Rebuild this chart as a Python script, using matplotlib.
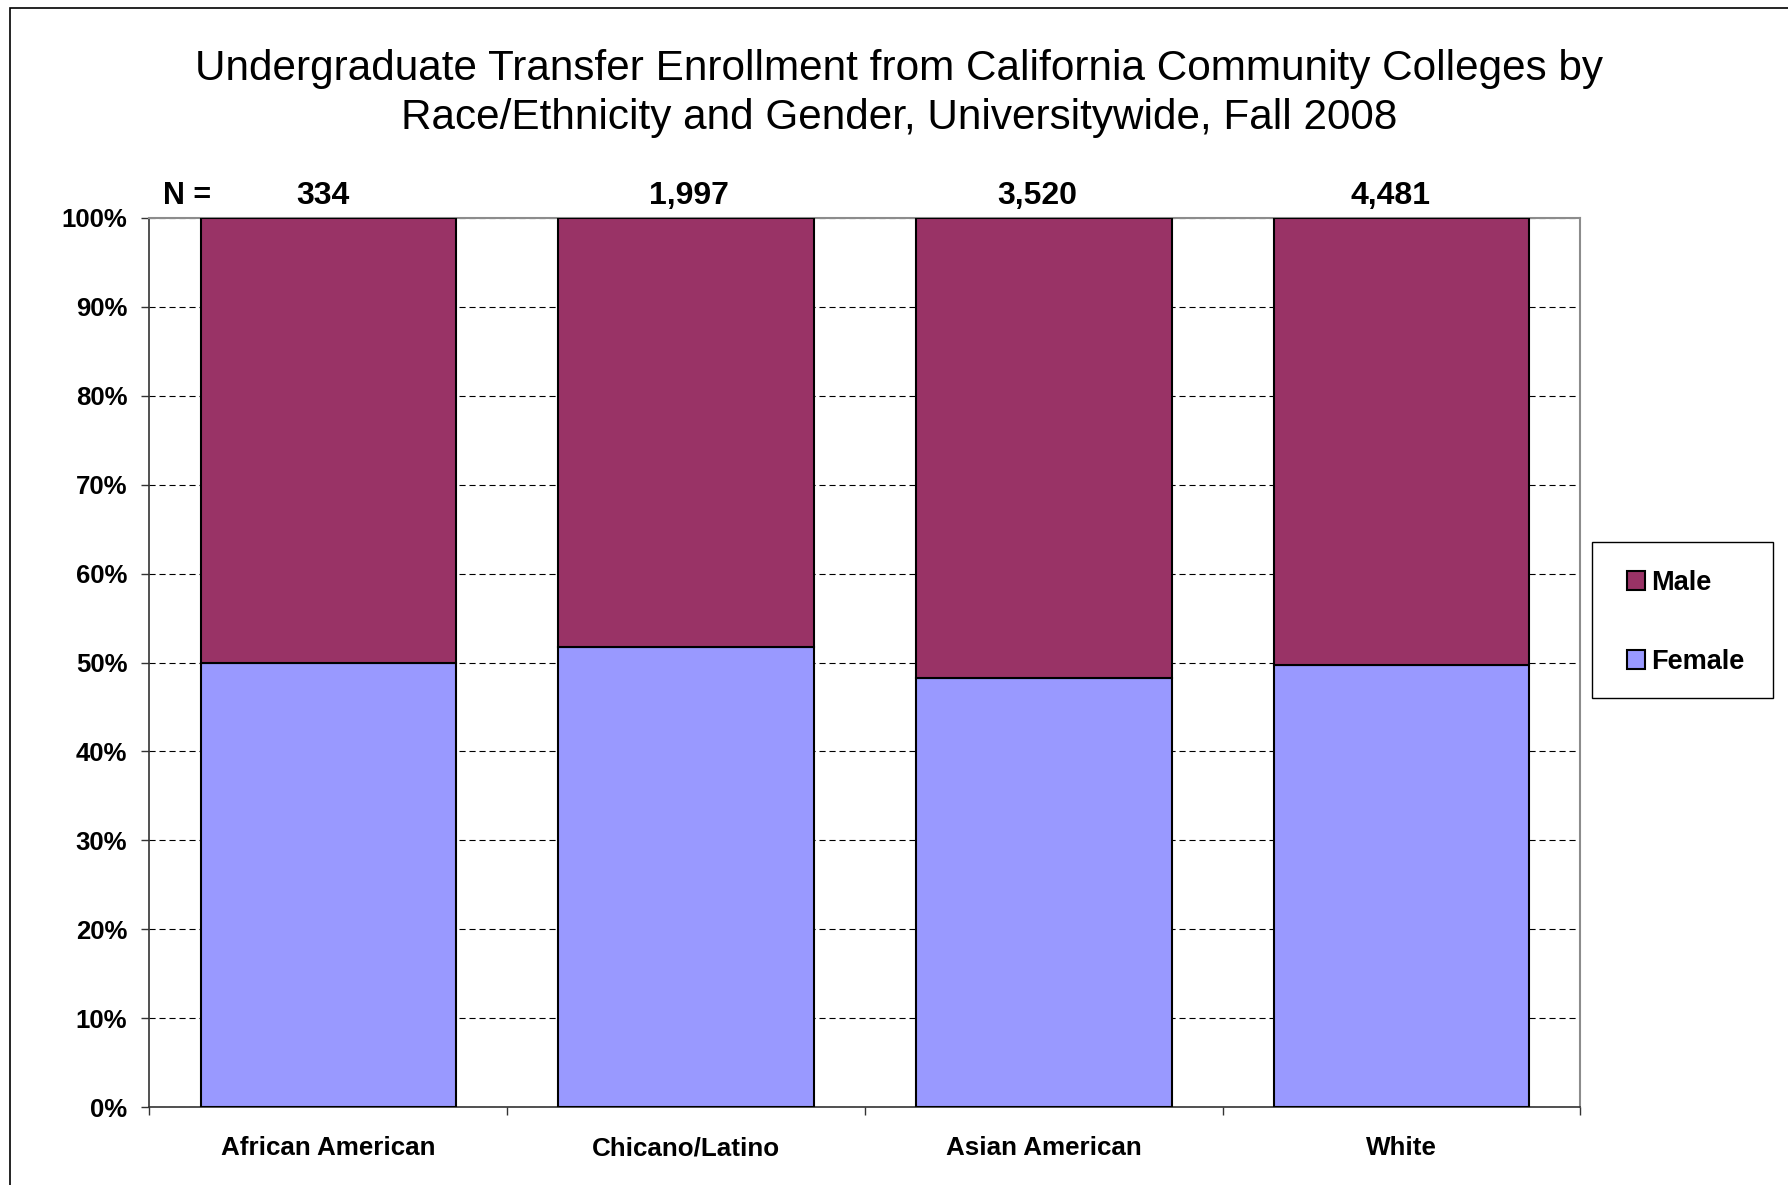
import matplotlib.pyplot as plt
from matplotlib.patches import Rectangle, Patch

plt.rcParams['font.family'] = ['Liberation Sans', 'DejaVu Sans']

categories = ["African American", "Chicano/Latino", "Asian American", "White"]
n_labels = ["334", "1,997", "3,520", "4,481"]
female_pct = [50.0, 51.7, 48.3, 49.7]
male_pct = [100 - f for f in female_pct]

# N labels are not exactly centered over the bars in the original
n_label_offsets = [-0.015, 0.008, -0.017, -0.032]

MALE_COLOR = "#993366"
FEMALE_COLOR = "#9999FF"

fig = plt.figure(figsize=(17.88, 11.85), dpi=100)
ax = fig.add_axes([0.0836, 0.0656, 0.8003, 0.7506])

x = list(range(len(categories)))
width = 0.714
ax.bar(x, female_pct, width=width, color=FEMALE_COLOR, edgecolor="black",
       linewidth=1.5, zorder=3, label="Female")
ax.bar(x, male_pct, width=width, bottom=female_pct, color=MALE_COLOR,
       edgecolor="black", linewidth=1.5, zorder=3, label="Male")

ax.set_xlim(-0.5, len(categories) - 0.5)
ax.set_ylim(0, 100)

# y axis
yt = list(range(0, 101, 10))
ax.set_yticks(yt)
ax.set_yticklabels([f"{v}%" for v in yt], fontsize=18.5, fontweight="bold")
ax.tick_params(axis="y", direction="out", length=6, width=1, pad=10, color="#333333")
ax.yaxis.grid(True, color="black", linestyle=(0, (5.5, 3.5)), linewidth=0.8, zorder=0)
ax.set_axisbelow(True)

# x axis: labels at centers, ticks at category boundaries
ax.set_xticks(x)
ax.set_xticklabels(categories, fontsize=18.7, fontweight="bold")
ax.tick_params(axis="x", which="major", length=0, pad=21)
ax.set_xticks([i - 0.5 for i in range(len(categories) + 1)], minor=True)
ax.tick_params(axis="x", which="minor", direction="out", length=6, width=1, color="#333333")

for side in ["left", "bottom"]:
    ax.spines[side].set_color("#333333")
    ax.spines[side].set_linewidth(1.2)
for side in ["top", "right"]:
    ax.spines[side].set_color("#8c8c8c")
    ax.spines[side].set_linewidth(1.5)

# N labels above bars
trans = ax.get_xaxis_transform()
ax.text(-0.395, 1.0245, "N =", transform=trans, ha="center", va="center",
        fontsize=22, fontweight="bold")
for xi, lab, off in zip(x, n_labels, n_label_offsets):
    ax.text(xi + off, 1.0245, lab, transform=trans, ha="center", va="center",
            fontsize=23, fontweight="bold")

fig.text(0.503, 0.9211,
         "Undergraduate Transfer Enrollment from California Community Colleges by\n"
         "Race/Ethnicity and Gender, Universitywide, Fall 2008",
         ha="center", va="center", fontsize=30.4, linespacing=1.315)

handles = [Patch(facecolor=MALE_COLOR, edgecolor="black", linewidth=1.5, label="Male"),
           Patch(facecolor=FEMALE_COLOR, edgecolor="black", linewidth=1.5, label="Female")]
leg = ax.legend(handles=handles, loc="center left",
                bbox_to_anchor=(1627 / 1788, 1 - 622.5 / 1185),
                bbox_transform=fig.transFigure, borderaxespad=0, borderpad=0,
                prop={"size": 19.5, "weight": "bold"}, frameon=False,
                handlelength=0.66, handleheight=0.66, handletextpad=0.22,
                labelspacing=1.96)

# legend box
fig.add_artist(Rectangle((1592 / 1788, 1 - 698 / 1185), 181 / 1788, 156 / 1185,
                         transform=fig.transFigure, fill=False,
                         edgecolor="black", linewidth=1.0))

# outer chart border (cut off at right and bottom)
fig.add_artist(Rectangle((10 / 1788, -0.1), 1.2, 0.1 + 1 - 7.5 / 1185,
                         transform=fig.transFigure, fill=False,
                         edgecolor="black", linewidth=1.2))

fig.savefig("out.png", dpi=100)
